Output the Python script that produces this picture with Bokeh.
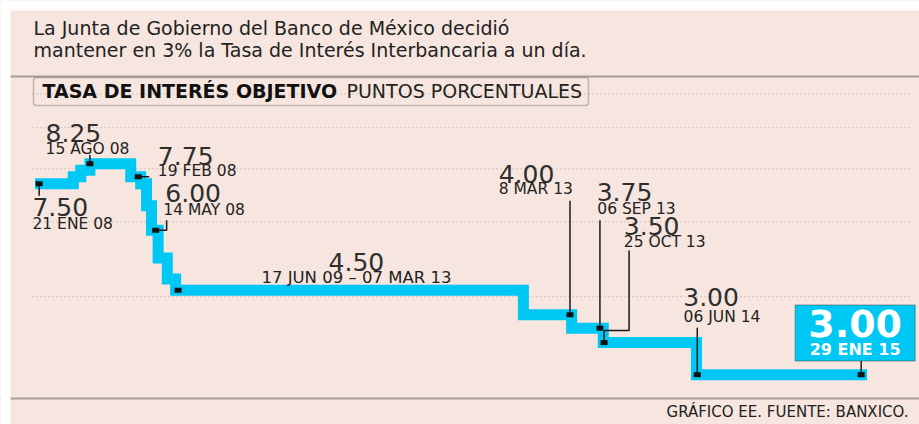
import math
from bokeh.plotting import figure
from bokeh.models import Range1d, Label, BoxAnnotation, Span
from bokeh.embed import file_html
from bokeh.resources import INLINE

# ---------------- data ----------------
# Target rate (Banxico), step line. Horizontal position as drawn in the source
# (the source time axis is schematic), on a 0-100 scale.
step_pos = [0.0, 4.6, 5.5, 6.6, 11.5, 12.7, 13.4, 14.0, 14.8, 15.9, 16.9, 58.7, 64.5, 68.3, 79.5, 100.0]
step_rate = [7.50, 7.75, 8.00, 8.25, 7.75, 7.50, 6.75, 6.00, 5.25, 4.75, 4.50, 4.00, 3.75, 3.50, 3.00, 3.00]

# Annotated decisions
mark_pos = [0.5, 6.6, 12.4, 14.5, 17.2, 64.3, 67.9, 68.4, 79.6, 99.3]
mark_rate = [7.50, 8.25, 7.75, 6.00, 4.50, 4.00, 3.75, 3.50, 3.00, 3.00]
mark_date = ["21 ENE 08", "15 AGO 08", "19 FEB 08", "14 MAY 08", "17 JUN 09 \u2013 07 MAR 13",
             "8 MAR 13", "06 SEP 13", "25 OCT 13", "06 JUN 14", "29 ENE 15"]

title_lines = ["La Junta de Gobierno del Banco de México decidió",
               "mantener en 3% la Tasa de Interés Interbancaria a un día."]
legend_bold = "TASA DE INTERÉS OBJETIVO"
legend_reg = "PUNTOS PORCENTUALES"
footer = "GRÁFICO EE. FUENTE: BANXICO."

# ---------------- layout / style ----------------
W, H = 919, 424
BG = "#F6E6DF"
CYAN = "#00C8F5"
INK = "#222222"
FONT = "DejaVu Sans"
BASE = 0.364                        # baseline correction (fraction of font size)

PAGE_X0, PXU = 34.5, 8.32          # page x of position 0, px per position unit
A_LOG, B_LOG = 603.28, 208.5       # page y = A - B*ln(rate)

x_start = -PAGE_X0 / PXU
x_end = x_start + W / PXU
y_top = math.exp(A_LOG / B_LOG)
y_bot = math.exp((A_LOG - H) / B_LOG)

# decorative dotted guide lines: 7 equally spaced rows
GRID_P0, GRID_STEP, GRID_N = 352.0, 35.33, 7
g_start = (GRID_P0 - H) / GRID_STEP
g_end = GRID_P0 / GRID_STEP


def sy(py):
    return H - py


def ux(u, dx):
    return u + dx / PXU


def vy(v, up):
    return v * math.exp(up / B_LOG)


def screen_label(x, base_y, text, size, **kw):
    return Label(x=x, y=sy(base_y) + BASE * size, x_units="screen", y_units="screen", text=text,
                 text_font=FONT, text_font_size=f"{size}px", text_baseline="alphabetic", **kw)


p = figure(width=W, height=H, x_range=Range1d(x_start, x_end), y_range=Range1d(y_bot, y_top),
           y_axis_type="log", x_axis_location=None, y_axis_location=None,
           toolbar_location=None, output_backend="svg", min_border=0,
           background_fill_color=BG, border_fill_color=BG, outline_line_color=None)
p.grid.visible = False
p.extra_y_ranges = {"grid": Range1d(g_start, g_end)}
rows = list(range(GRID_N))
p.segment(x0=[ux(0, -2.5)] * GRID_N, x1=[ux(0, 911 - PAGE_X0)] * GRID_N, y0=rows, y1=rows,
          y_range_name="grid", line_color="#B3A8A2", line_dash="1 3", line_width=1)

# separators
for loc in (sy(76), sy(398)):
    p.add_layout(Span(location=loc, location_units="screen", dimension="width",
                      line_color="#A89D98", line_width=2))

# title
for i, t in enumerate(title_lines):
    p.add_layout(screen_label(33, 34.7 + 21.6 * i, t, 19, text_color=INK))

# legend box
p.add_layout(BoxAnnotation(left=33, right=588, top=sy(77), bottom=sy(105),
                           left_units="screen", right_units="screen", top_units="screen",
                           bottom_units="screen", fill_alpha=0, line_color="#444444",
                           line_width=1.5, border_radius=3))
p.add_layout(screen_label(42, 97.3, legend_bold, 19, text_font_style="bold", text_color="#111111"))
p.add_layout(screen_label(346, 97.3, legend_reg, 19, text_color=INK))

# footer
p.add_layout(screen_label(908, 416.7, footer, 15, text_color=INK, text_align="right"))

# step line
p.step(x=step_pos, y=step_rate, mode="after", line_width=11, line_color=CYAN, line_join="miter")

# label layout (pixel offsets from each marker: dx right, up = text baseline height)
VAL_OFF = [(-6.7, -32.3), (-44.3, 21.3), (19.7, 11.7), (9.7, 27.6), (178.3, 19.3),
           (-71.3, 132), (-3.3, 127.3), (19.7, 107.4), (-14, 69), (-6, 37.4)]
DATE_OFF = [(-6.7, -45.7), (-44.3, 9), (19.7, 0), (7.7, 14.3), (178.3, 6.7),
            (-71.3, 120.3), (-2.6, 114), (19.7, 95), (-13.7, 51.7), (-6, 19.7)]
LEADERS = [[(0, 0), (0, -12)], [(0, 0), (0, 9)], [(0, 0), (11, 0)], [(0, 0), (11, 0), (11, 10)], None,
           [(0, 0), (0, 114)], [(0, 0), (0, 108)], [(0, 0), (0, 12), (25, 12), (25, 92)],
           [(0, 0), (0, 47)], [(0, 0), (0, 14)]]
LAST = len(mark_pos) - 1

# highlighted box for the latest decision
p.add_layout(BoxAnnotation(left=ux(mark_pos[LAST], -66), right=ux(mark_pos[LAST], 54),
                           bottom=vy(mark_rate[LAST], 13.7), top=vy(mark_rate[LAST], 69.7),
                           fill_color=CYAN, fill_alpha=1, line_color="#333333", line_width=1.5))

xs, ys = [], []
for u, v, lead in zip(mark_pos, mark_rate, LEADERS):
    if lead:
        xs.append([ux(u, d[0]) for d in lead])
        ys.append([vy(v, d[1]) for d in lead])
p.multi_line(xs=xs, ys=ys, line_color="#1A1A1A", line_width=1.5)

p.rect(x=mark_pos, y=mark_rate, width=7, height=5, width_units="screen", height_units="screen",
       fill_color="#111111", line_color=None)

for i, (u, v, d) in enumerate(zip(mark_pos, mark_rate, mark_date)):
    align = "center" if i in (4, LAST) else "left"
    if i == LAST:
        vs, ds = 38, 16
        vkw = dict(text_font_style="bold", text_color="white")
        dkw = dict(text_font_style="bold", text_color="white")
    else:
        vs, ds = 25, (16.5 if i == 4 else 15.5)
        vkw = dict(text_color="#2E2E2E")
        dkw = dict(text_color=INK)
    p.add_layout(Label(x=u, y=v, x_offset=VAL_OFF[i][0], y_offset=VAL_OFF[i][1] + BASE * vs,
                       text=f"{v:.2f}", text_font=FONT, text_font_size=f"{vs}px",
                       text_align=align, text_baseline="alphabetic", **vkw))
    p.add_layout(Label(x=u, y=v, x_offset=DATE_OFF[i][0], y_offset=DATE_OFF[i][1] + BASE * ds,
                       text=d, text_font=FONT, text_font_size=f"{ds}px",
                       text_align=align, text_baseline="alphabetic", **dkw))

# white page edge (top and left) as in the source
p.add_layout(BoxAnnotation(left=0, right=10, top=H, bottom=0, left_units="screen",
                           right_units="screen", top_units="screen", bottom_units="screen",
                           fill_color="white", fill_alpha=1, line_color=None))
p.add_layout(BoxAnnotation(left=0, right=W, top=H, bottom=H - 10, left_units="screen",
                           right_units="screen", top_units="screen", bottom_units="screen",
                           fill_color="white", fill_alpha=1, line_color=None))

open("out.html", "w").write(file_html(p, INLINE))
